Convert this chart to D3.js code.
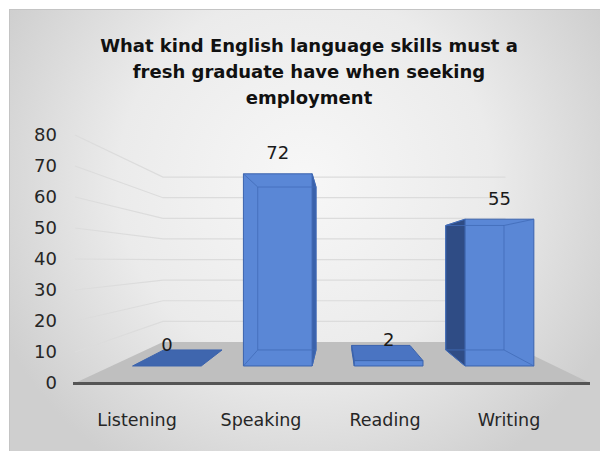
<!DOCTYPE html>
<html>
<head>
<meta charset="utf-8">
<script src="https://cdn.jsdelivr.net/npm/d3@7"></script>
<style>
  body { margin: 0; background: #fff; }
  svg { display: block; font-family: "DejaVu Sans", Verdana, sans-serif; }
</style>
</head>
<body>
<div id="chart"></div>
<script>
const categories = ["Listening", "Speaking", "Reading", "Writing"];
const values = [0, 72, 2, 55];
const yTicks = [0, 10, 20, 30, 40, 50, 60, 70, 80];
const titleLines = ["What kind English language skills must a", "fresh graduate have when seeking", "employment"];

const width = 600, height = 451;

// perspective: vanishing point and depth factors (1 = front of floor)
const vp = {x: 337.6, y: 260.6};
const sFloorBack = 0.665, sBarFront = 0.861, sBarBack = 0.730;

function proj(X, Y, s) {
    return [vp.x + s * (X - vp.x), vp.y + s * (Y - vp.y)];
}

const svg = d3.select("#chart").append("svg")
    .attr("width", width)
    .attr("height", height);

let defs = svg.append("defs");
let grad = defs.append("radialGradient")
    .attr("id", "bg")
    .attr("gradientUnits", "userSpaceOnUse")
    .attr("cx", 305).attr("cy", 180).attr("r", 340);
grad.append("stop").attr("offset", "0%").attr("stop-color", "#f7f7f7");
grad.append("stop").attr("offset", "55%").attr("stop-color", "#ebebeb");
grad.append("stop").attr("offset", "100%").attr("stop-color", "#cfcfcf");

svg.append("rect")
    .attr("x", 9.5).attr("y", 9.5)
    .attr("width", width).attr("height", height)
    .attr("fill", "url(#bg)")
    .attr("stroke", "#c4c4c4");

// scales on the front plane
let x = d3.scaleBand()
    .domain(categories)
    .range([75, 590])
    .paddingInner(0.38)
    .paddingOuter(0.19);

let y = d3.scaleLinear()
    .domain([0, 80])
    .range([383, 135]);

let xLabel = d3.scaleBand()
    .domain(categories)
    .range([75, 571]);

// title
svg.append("g").selectAll("text").data(titleLines).enter().append("text")
    .attr("x", 309)
    .attr("y", (d, i) => 52 + i * 26)
    .attr("text-anchor", "middle")
    .attr("font-weight", "bold")
    .attr("font-size", 18)
    .attr("fill", "#111")
    .text(d => d);

// walls gridlines
let grid = svg.append("g");
let X0 = x.range()[0], X1 = x.range()[1];
grid.selectAll("path").data(yTicks.filter(d => d > 0)).enter().append("path")
    .attr("d", function (d) {
        let a = [X0, y(d)];
        let b = proj(X0, y(d), sFloorBack);
        let c = proj(X1, y(d), sFloorBack);
        return d3.line()([a, b, c]);
    })
    .attr("fill", "none")
    .attr("stroke", "#dcdcdc")
    .attr("stroke-width", 1.2);

// floor
let floorPts = [[X0, y(0)], proj(X0, y(0), sFloorBack), proj(X1, y(0), sFloorBack), [X1, y(0)]];
svg.append("path")
    .attr("d", d3.line()(floorPts) + "Z")
    .attr("fill", "#bfbfbf");
svg.append("line")
    .attr("x1", X0 - 2).attr("x2", X1)
    .attr("y1", y(0) + 0.5).attr("y2", y(0) + 0.5)
    .attr("stroke", "#555")
    .attr("stroke-width", 3);

// y tick labels
svg.append("g").selectAll("text").data(yTicks).enter().append("text")
    .attr("x", 57)
    .attr("y", d => y(d))
    .attr("dy", "0.36em")
    .attr("text-anchor", "end")
    .attr("font-size", 18)
    .attr("fill", "#262626")
    .text(d => d);

// category labels
svg.append("g").selectAll("text").data(categories).enter().append("text")
    .attr("x", d => xLabel(d) + xLabel.bandwidth() / 2)
    .attr("y", 420)
    .attr("dy", "0.36em")
    .attr("text-anchor", "middle")
    .attr("font-size", 17.5)
    .attr("fill", "#262626")
    .text(d => d);

// bars
let bars = categories.map((c, i) => ({cat: c, value: values[i]}));
let barG = svg.append("g");
bars.forEach(function (b) {
    let xa = x(b.cat), xb = x(b.cat) + x.bandwidth();
    let yt = y(b.value), yb = y(0);
    let F = {tl: proj(xa, yt, sBarFront), tr: proj(xb, yt, sBarFront), bl: proj(xa, yb, sBarFront), br: proj(xb, yb, sBarFront)};
    let B = {tl: proj(xa, yt, sBarBack), tr: proj(xb, yt, sBarBack), bl: proj(xa, yb, sBarBack), br: proj(xb, yb, sBarBack)};
    let faces = [];
    let edges = [];
    if (b.value === 0) {
        faces.push({pts: [F.tl, F.tr, B.tr, B.tl], fill: "#3f66ae"});
    } else {
        if (xa > vp.x) faces.push({pts: [F.tl, B.tl, B.bl, F.bl], fill: "#2f4c85"});
        if (xb < vp.x) faces.push({pts: [F.tr, B.tr, B.br, F.br], fill: "#3a62ab"});
        if (yt > vp.y) faces.push({pts: [F.tl, F.tr, B.tr, B.tl], fill: "#4a74c2"});
        faces.push({pts: [F.tl, F.tr, F.br, F.bl], fill: "#5a87d6"});
        // hidden edges seen through the translucent front face
        if (b.value > 5) {
            edges.push([B.tl, B.tr, B.br, B.bl, B.tl]);
            edges.push([F.tl, B.tl]);
            edges.push([F.tr, B.tr]);
            edges.push([F.bl, B.bl]);
            edges.push([F.br, B.br]);
        }
    }
    barG.selectAll(null).data(faces).enter().append("path")
        .attr("d", d => d3.line()(d.pts) + "Z")
        .attr("fill", d => d.fill)
        .attr("stroke", "#3b63ad")
        .attr("stroke-width", 1)
        .attr("stroke-linejoin", "round");
    barG.selectAll(null).data(edges).enter().append("path")
        .attr("d", d => d3.line()(d))
        .attr("fill", "none")
        .attr("stroke", "#416bb8")
        .attr("stroke-opacity", 0.8)
        .attr("stroke-width", 1);

    let lp = proj(xa + x.bandwidth() / 2, yt, sBarFront);
    barG.append("text")
        .attr("x", lp[0])
        .attr("y", lp[1] - 21)
        .attr("dy", "0.36em")
        .attr("text-anchor", "middle")
        .attr("font-size", 18)
        .attr("fill", "#1a1a1a")
        .text(b.value);
});
</script>
</body>
</html>
